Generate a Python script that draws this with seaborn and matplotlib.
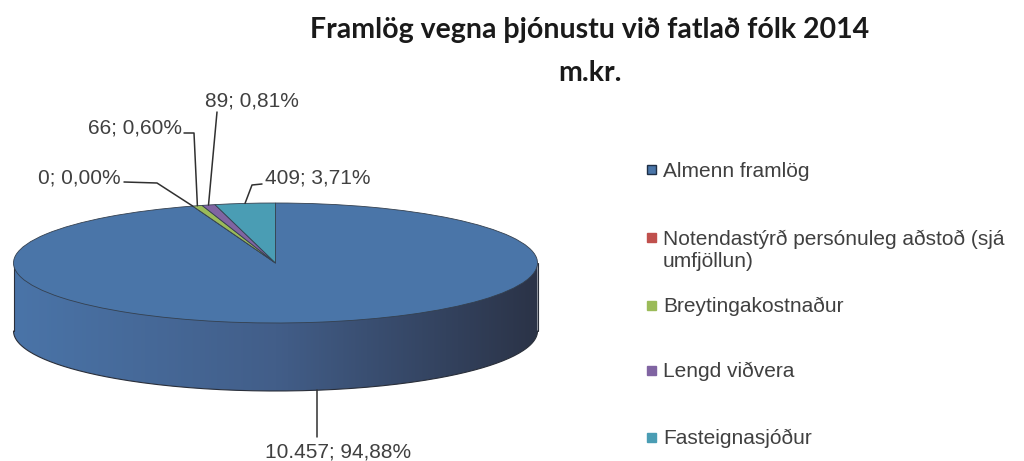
import matplotlib
matplotlib.use("Agg")
import matplotlib.pyplot as plt
import numpy as np
import seaborn as sns
from matplotlib.colors import LinearSegmentedColormap
from matplotlib.patches import Polygon, Rectangle

# Data
categories = [
    "Almenn framlög",
    "Notendastýrð persónuleg aðstoð (sjá\numfjöllun)",
    "Breytingakostnaður",
    "Lengd viðvera",
    "Fasteignasjóður",
]
values = [10457, 0, 66, 89, 409]
colors = ["#4A75A8", "#C0504D", "#9BBB59", "#8064A2", "#4A9DB4"]

title = "Framlög vegna þjónustu við fatlað fólk 2014"
subtitle = "m.kr."

sns.set_theme(style="white")
plt.rcParams["font.family"] = ["Liberation Sans", "DejaVu Sans"]

W, H = 1024, 461
fig = plt.figure(figsize=(W / 100, H / 100), dpi=100)
ax = fig.add_axes([0, 0, 1, 1])

# pie geometry in pixels (from top-left)
cx, cy = 275.5, 263
rx, ry = 262, 60
depth = 68 / ry


def px(x, y):
    # pixel position -> data coords
    return (x - cx) / rx, (cy - y) / ry


# side of the 3D pie, with a horizontal shading
theta = np.linspace(np.pi, 2 * np.pi, 200)
side = np.column_stack([np.cos(theta), np.sin(theta) - depth])
side = np.vstack([[-1, 0], side, [1, 0]])
side_patch = Polygon(side, closed=True, facecolor="none", edgecolor="none")
ax.add_patch(side_patch)
side_cmap = LinearSegmentedColormap.from_list("side", ["#4A74A8", "#425E89", "#2B3347"])
grad = np.linspace(0, 1, 256).reshape(1, -1)
img = ax.imshow(grad, extent=(-1, 1, -depth - 1, 0), cmap=side_cmap,
                aspect="auto", zorder=1)
img.set_clip_path(side_patch)
ax.plot(side[1:-1, 0], side[1:-1, 1], color="#2a2f3a", lw=0.8, zorder=2)
ax.plot([-1, -1], [0, -depth], color="#2a2f3a", lw=0.8, zorder=2)
ax.plot([1, 1], [0, -depth], color="#2a2f3a", lw=0.8, zorder=2)

# top surface
wedges, _ = ax.pie(values, colors=colors, startangle=90, counterclock=False,
                   radius=1, center=(0, 0),
                   wedgeprops=dict(edgecolor="#34404f", linewidth=0.6))
for w in wedges:
    w.set_zorder(3)

ax.set_aspect("auto")
ax.set_xlim(-cx / rx, (W - cx) / rx)
ax.set_ylim(-(H - cy) / ry, cy / ry)
ax.axis("off")

# data labels
total = sum(values)
cum = np.cumsum([0] + values)
mids = [np.radians(90 - 360 * (cum[i] + values[i] / 2) / total) for i in range(len(values))]


def fmt_val(v):
    return f"{v:,}".replace(",", ".")


def fmt_pct(v):
    return f"{100 * v / total:.2f}%".replace(".", ",")


labels = [f"{fmt_val(v)}; {fmt_pct(v)}" for v in values]
targets = [(np.cos(a), np.sin(a)) for a in mids]
targets[0] = (targets[0][0], targets[0][1] - depth)

# (text position, ha, elbow points from text side) in pixels
label_layout = [
    ((338, 452), "center", [(None, 437)]),
    ((121, 178), "right", [(124, 182), (157, 183)]),
    ((182, 128), "right", [(184, 133), (194, 133)]),
    ((205, 101), "left", [(217, 112)]),
    ((265, 178), "left", [(262, 184), (252, 185)]),
]
lab_font = dict(fontsize=15, color="#404040")
for lab, tgt, (tpos, ha, elbows) in zip(labels, targets, label_layout):
    tx, ty = px(*tpos)
    ax.text(tx, ty, lab, ha=ha, va="center", zorder=5, **lab_font)
    pts = []
    for ex, ey in elbows:
        dx, dy = px(ex if ex is not None else cx, ey)
        if ex is None:
            dx = tgt[0]
        pts.append((dx, dy))
    pts.append(tgt)
    pts = np.array(pts)
    ax.plot(pts[:, 0], pts[:, 1], color="#303030", lw=1.1, zorder=4)

# title
fig.text(590 / W, 1 - 30 / H, title, ha="center", va="center",
         fontfamily="Lato", fontweight="bold", fontsize=20.5, color="#1a1a1a")
fig.text(590 / W, 1 - 73 / H, subtitle, ha="center", va="center",
         fontfamily="Lato", fontweight="bold", fontsize=20.5, color="#1a1a1a")

# legend
legend_y = [170, 238, 305, 370, 437]
for cat, col, ly in zip(categories, colors, legend_y):
    edge = "#1f2f45" if col == colors[0] else col
    fig.patches.append(Rectangle((647 / W, 1 - (ly + 4.5) / H), 9 / W, 9 / H,
                                 transform=fig.transFigure, facecolor=col,
                                 edgecolor=edge, lw=1))
    fig.text(663 / W, 1 - (ly - 8) / H, cat, ha="left", va="top",
             fontsize=15, color="#404040", linespacing=1.15)

fig.savefig("out.png", dpi=100)
